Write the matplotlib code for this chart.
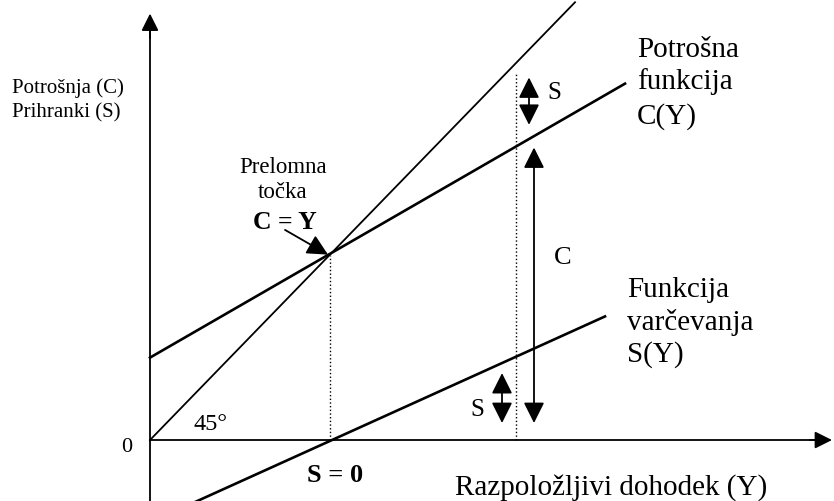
import matplotlib
matplotlib.use("Agg")
import matplotlib.pyplot as plt

# ---- data ----
# income axis Y, value axis C / S
line45_Y = [0.0, 4.25]
line45_V = [0.0, 4.25]
consumption_Y = [0.0, 4.75]
consumption_C = [0.80, 3.46]
saving_Y = [0.0, 4.55]
saving_S = [-0.80, 1.20]
breakeven_Y = 1.80
breakeven_V = 1.80
marker_Y = 3.66
marker_top = 3.55
S_upper_Y = 3.79
S_upper_range = [3.06, 3.52]
C_arrow_Y = 3.84
C_arrow_range = [0.165, 2.84]
S_lower_Y = 3.52
S_lower_range = [0.165, 0.65]

serif = ["Liberation Serif", "DejaVu Serif"]

fig = plt.figure(figsize=(8.34, 5.01), dpi=100)
ax = fig.add_axes([0, 0, 1, 1])
ax.set_xlim(-1.5, 6.84)
ax.set_ylim(-0.592, 4.272)
ax.axis("off")

head = dict(color="black", lw=1.3, shrinkA=0, shrinkB=0)

# axes with arrows
ax.plot([0, 0], [-0.592, 4.0], color="black", lw=1.3)
ax.annotate("", xy=(0, 4.14), xytext=(0, 3.9),
            arrowprops=dict(arrowstyle="-|>,head_length=0.8,head_width=0.4",
                            mutation_scale=13, **head))
ax.plot([0, 6.7], [0, 0], color="black", lw=1.3)
ax.annotate("", xy=(6.82, 0), xytext=(6.6, 0),
            arrowprops=dict(arrowstyle="-|>,head_length=0.8,head_width=0.4",
                            mutation_scale=13, **head))

# functions
ax.plot(line45_Y, line45_V, color="black", lw=1.3)
ax.plot(consumption_Y, consumption_C, color="black", lw=1.9)
ax.plot(saving_Y, saving_S, color="black", lw=1.9)

# dotted guides
ax.plot([breakeven_Y, breakeven_Y], [0, breakeven_V], color="black", lw=1.0, ls=":")
ax.plot([marker_Y, marker_Y], [0, marker_top], color="black", lw=1.0, ls=":")

# double arrows
dbl = "<|-|>,head_length=0.9,head_width=0.45"
ax.annotate("", xy=(S_upper_Y, S_upper_range[1]), xytext=(S_upper_Y, S_upper_range[0]),
            arrowprops=dict(arrowstyle=dbl, mutation_scale=14, **head))
ax.annotate("", xy=(C_arrow_Y, C_arrow_range[1]), xytext=(C_arrow_Y, C_arrow_range[0]),
            arrowprops=dict(arrowstyle=dbl, mutation_scale=14, **head))
ax.annotate("", xy=(S_lower_Y, S_lower_range[1]), xytext=(S_lower_Y, S_lower_range[0]),
            arrowprops=dict(arrowstyle=dbl, mutation_scale=14, **head))

# break-even annotation
ax.annotate("", xy=(1.78, 1.80), xytext=(1.35, 2.04),
            arrowprops=dict(arrowstyle="-|>,head_length=0.9,head_width=0.45",
                            mutation_scale=14, **head))

def t(x, y, s, size, ha="left", weight="normal"):
    ax.text(x, y, s, fontsize=size, ha=ha, va="center", family=serif,
            fontweight=weight, color="black")

t(-1.38, 3.42, "Potrošnja (C)", 15)
t(-1.38, 3.18, "Prihranki (S)", 15)
t(1.33, 2.65, "Prelomna", 16.5, ha="center")
t(1.33, 2.40, "točka", 16.5, ha="center")
t(1.35, 2.11, "C = Y", 18.5, ha="center", weight="bold")
t(3.97, 3.37, "S", 18)
t(4.87, 3.79, "Potrošna", 21)
t(4.87, 3.48, "funkcija", 21)
t(4.87, 3.14, "C(Y)", 21)
t(4.13, 1.77, "C", 19, ha="center")
t(4.77, 1.46, "Funkcija", 21)
t(4.77, 1.14, "varčevanja", 21)
t(4.77, 0.83, "S(Y)", 21)
t(3.27, 0.29, "S", 18, ha="center")
t(-0.23, -0.07, "0", 16, ha="center")
t(0.61, 0.15, "45°", 17.5, ha="center")
t(1.85, -0.34, "S = 0", 19, ha="center", weight="bold")
t(3.05, -0.46, "Razpoložljivi dohodek (Y)", 21)

fig.savefig("out.png", dpi=100)
